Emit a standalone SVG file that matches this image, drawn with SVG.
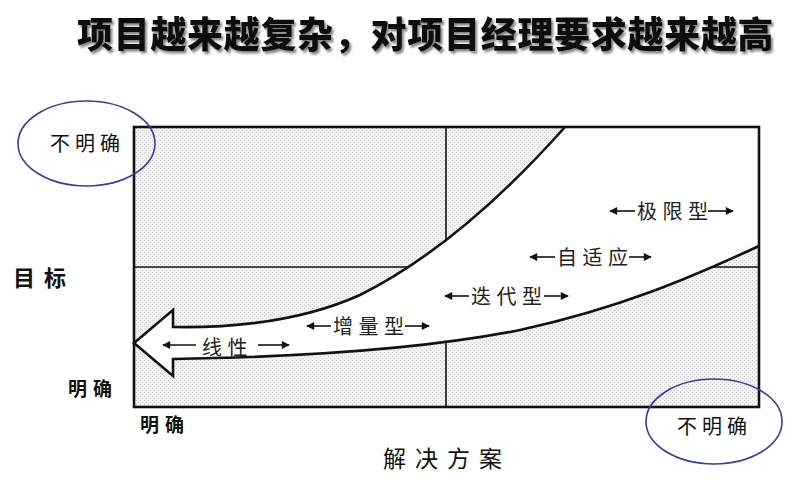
<svg xmlns="http://www.w3.org/2000/svg" width="800" height="480" viewBox="0 0 800 480">
  <style>
    .cjk { font-family: "Noto Sans CJK SC", sans-serif; fill: #111; }
    .lbl { font-size: 20px; letter-spacing: 5.5px; fill: #222; }
    .ax { font-size: 20px; letter-spacing: 5px; }
    .half { stroke: #111; stroke-width: 1.6; fill: none; marker-end: url(#ah); }
    .ring { fill: none; stroke: #3b3ba6; stroke-width: 1.6; }
  </style>
  <defs>
    <pattern id="dots" width="4" height="4" patternUnits="userSpaceOnUse">
      <rect width="4" height="4" fill="#f1f1f1"/>
      <rect x="0" y="0" width="1" height="1" fill="#cdcdcd"/>
      <rect x="2" y="2" width="1" height="1" fill="#cdcdcd"/>
    </pattern>
    <marker id="ah" viewBox="0 0 10 10" refX="9" refY="5" markerWidth="10" markerHeight="8" markerUnits="userSpaceOnUse" orient="auto">
      <path d="M0,0 L10,5 L0,10 Z" fill="#111"/>
    </marker>
    <filter id="shadow" x="-5%" y="-20%" width="110%" height="150%">
      <feDropShadow dx="2" dy="2.5" stdDeviation="1" flood-color="#666" flood-opacity="0.8"/>
    </filter>
  </defs>

  <g id="title">
    <text class="cjk" x="77" y="48" font-size="36" font-weight="900" letter-spacing="0.7" filter="url(#shadow)" fill="#000">项目越来越复杂，对项目经理要求越来越高</text>
  </g>

  <g id="chart">
    <rect x="134" y="127" width="625" height="280" fill="url(#dots)"/>
    <line x1="446" y1="127" x2="446" y2="407" stroke="#111" stroke-width="1.6"/>
    <line x1="134" y1="267" x2="759" y2="267" stroke="#111" stroke-width="1.6"/>
    <path id="band" d="M565,127 C500,200 430,260 360,295 C300,322 230,328 173,327 L173,310 L134,343 L173,376 L173,359 C300,357 420,350 520,330 C620,308 690,278 759,246 L759,127 Z" fill="#ffffff"/>
    <path d="M565,127 C500,200 430,260 360,295 C300,322 230,328 173,327 L173,310 L134,343 L173,376 L173,359 C300,357 420,350 520,330 C620,308 690,278 759,246" fill="none" stroke="#111" stroke-width="2.6" stroke-linejoin="miter"/>
    <rect x="134" y="127" width="625" height="280" fill="none" stroke="#111" stroke-width="2.6"/>
  </g>

  <g id="axis-labels">
    <text class="cjk ax" x="50" y="150.5">不明确</text>
    <text class="cjk" x="13" y="286" font-size="22" font-weight="700" letter-spacing="9">目标</text>
    <text class="cjk" x="68" y="396" font-size="19" font-weight="600" letter-spacing="6">明确</text>
    <text class="cjk" x="140" y="432" font-size="19" font-weight="600" letter-spacing="6">明确</text>
    <text class="cjk" x="383" y="466.5" font-size="23" letter-spacing="9">解决方案</text>
    <text class="cjk ax" x="677" y="433.5">不明确</text>
  </g>

  <g id="rings">
    <ellipse class="ring" cx="86.5" cy="143.5" rx="68.5" ry="42.5"/>
    <ellipse class="ring" cx="714" cy="421.5" rx="68" ry="42.5"/>
  </g>

  <g id="label-linear">
    <path class="half" d="M196,345 L163,345"/>
    <text class="cjk lbl" x="202" y="355" letter-spacing="8">线性</text>
    <path class="half" d="M258,345 L289,345"/>
  </g>
  <g id="label-incremental">
    <path class="half" d="M331,326 L307,326"/>
    <text class="cjk lbl" x="333" y="334">增量型</text>
    <path class="half" d="M405,326 L429,326"/>
  </g>
  <g id="label-iterative">
    <path class="half" d="M469,296 L445,296"/>
    <text class="cjk lbl" x="471" y="303.5">迭代型</text>
    <path class="half" d="M544,296 L568,296"/>
  </g>
  <g id="label-adaptive">
    <path class="half" d="M555,257 L530,257"/>
    <text class="cjk lbl" x="557" y="264.5">自适应</text>
    <path class="half" d="M629,257 L651,257"/>
  </g>
  <g id="label-extreme">
    <path class="half" d="M635,211 L610,211"/>
    <text class="cjk lbl" x="637" y="218.5">极限型</text>
    <path class="half" d="M708,211 L733,211"/>
  </g>
</svg>
